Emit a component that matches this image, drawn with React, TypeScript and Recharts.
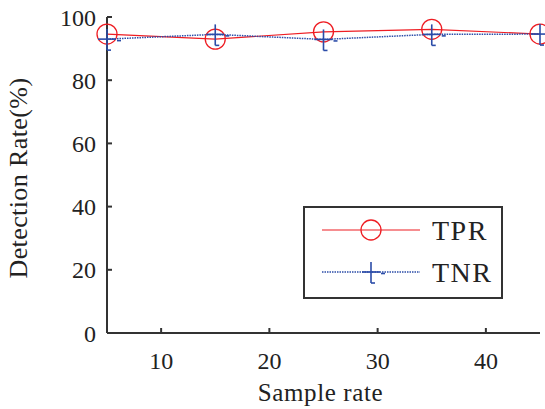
import React from 'react';
import { LineChart, Line, XAxis, YAxis, Legend } from 'recharts';

const sampleRate = [5, 15, 25, 35, 45];
const tprValues = [94.6, 93.0, 95.3, 96.1, 94.6];
const tnrValues = [93.0, 94.5, 92.9, 94.5, 94.6];
const xTicks = [10, 20, 30, 40];
const yTicks = [0, 20, 40, 60, 80, 100];
const seriesNames = ['TPR', 'TNR'];

const data = sampleRate.map((s, i) => ({ rate: s, TPR: tprValues[i], TNR: tnrValues[i] }));

const FONT = '"Liberation Serif", "Times New Roman", serif';
const RED = '#ee1d23';
const BLUE = '#2b4ca8';
const AXIS = '#333';

const CircleMarker = ({ cx, cy }: any) => (
  <circle cx={cx} cy={cy} r={10} fill="none" stroke={RED} strokeWidth={1.3} />
);

const PlusMarker = ({ cx, cy }: any) => (
  <g stroke={BLUE} strokeWidth={1.6} fill="none">
    <line x1={cx - 9} y1={cy} x2={cx + 9} y2={cy} />
    <line x1={cx} y1={cy - 10} x2={cx} y2={cy + 11} />
    <line x1={cx} y1={cy + 11} x2={cx + 4} y2={cy + 11} />
    <line x1={cx + 10} y1={cy + 1.5} x2={cx + 14} y2={cy + 1.5} />
  </g>
);

const YLabel = ({ viewBox }: any) => {
  const cy = viewBox.y + viewBox.height / 2 + 3;
  return (
    <text x={18} y={cy} transform={`rotate(-90 18 ${cy})`} textAnchor="middle"
      dominantBaseline="central" fontFamily={FONT} fontSize={26} fill="#222" letterSpacing={0.4}>
      Detection Rate(%)
    </text>
  );
};

const XLabel = ({ viewBox }: any) => (
  <text x={viewBox.x + viewBox.width / 2 - 3} y={401} textAnchor="middle"
    fontFamily={FONT} fontSize={25} fill="#222" letterSpacing={0.6}>
    Sample rate
  </text>
);

const renderLegend = () => (
  <svg width={200} height={93}>
    <rect x={1} y={1} width={198} height={91} fill="#fff" stroke={AXIS} strokeWidth={2} />
    <line x1={19} y1={24} x2={117} y2={24} stroke={RED} strokeWidth={1.2} />
    <CircleMarker cx={68} cy={24} />
    <text x={129} y={24} dominantBaseline="central" fontFamily={FONT} fontSize={28} fill="#222" letterSpacing={1.5}>
      {seriesNames[0]}
    </text>
    <line x1={19} y1={66} x2={117} y2={66} stroke={BLUE} strokeWidth={1.5} strokeDasharray="1.5 1" />
    <PlusMarker cx={68} cy={66} />
    <text x={129} y={66} dominantBaseline="central" fontFamily={FONT} fontSize={28} fill="#222" letterSpacing={1.5}>
      {seriesNames[1]}
    </text>
  </svg>
);

export default function App() {
  const tickStyle = { fontFamily: FONT, fontSize: 24, fill: '#222' };
  return (
    <div style={{ position: 'absolute', left: 0, top: 0, background: '#fff' }}>
      <LineChart width={545} height={409} data={data}
        margin={{ top: 17, right: 5, left: 0, bottom: 0 }}>
        <XAxis dataKey="rate" type="number" domain={[5, 45]} ticks={xTicks}
          height={76} stroke={AXIS} strokeWidth={2} tickSize={-5} tickMargin={24}
          tick={tickStyle} label={<XLabel />} />
        <XAxis xAxisId="top" orientation="top" dataKey="rate" type="number" domain={[5, 45]}
          ticks={xTicks} height={0} stroke={AXIS} strokeWidth={2} tickSize={-5} tick={false} />
        <YAxis type="number" domain={[0, 100]} ticks={yTicks} width={107}
          stroke={AXIS} strokeWidth={2} tickSize={-5} tickMargin={16}
          tick={tickStyle} label={<YLabel />} />
        <YAxis yAxisId="right" orientation="right" type="number" domain={[0, 100]} ticks={yTicks}
          width={0} stroke={AXIS} strokeWidth={2} tickSize={-5} tick={false} />
        <Legend content={renderLegend} layout="vertical" align="center" verticalAlign="middle"
          wrapperStyle={{ position: 'absolute', left: 303, top: 206, width: 200, height: 93 }} />
        <Line type="linear" dataKey="TPR" stroke={RED} strokeWidth={1.2}
          dot={<CircleMarker />} activeDot={false} isAnimationActive={false} />
        <Line type="linear" dataKey="TNR" stroke={BLUE} strokeWidth={1.5} strokeDasharray="1.5 1"
          dot={<PlusMarker />} activeDot={false} isAnimationActive={false} />
      </LineChart>
    </div>
  );
}
